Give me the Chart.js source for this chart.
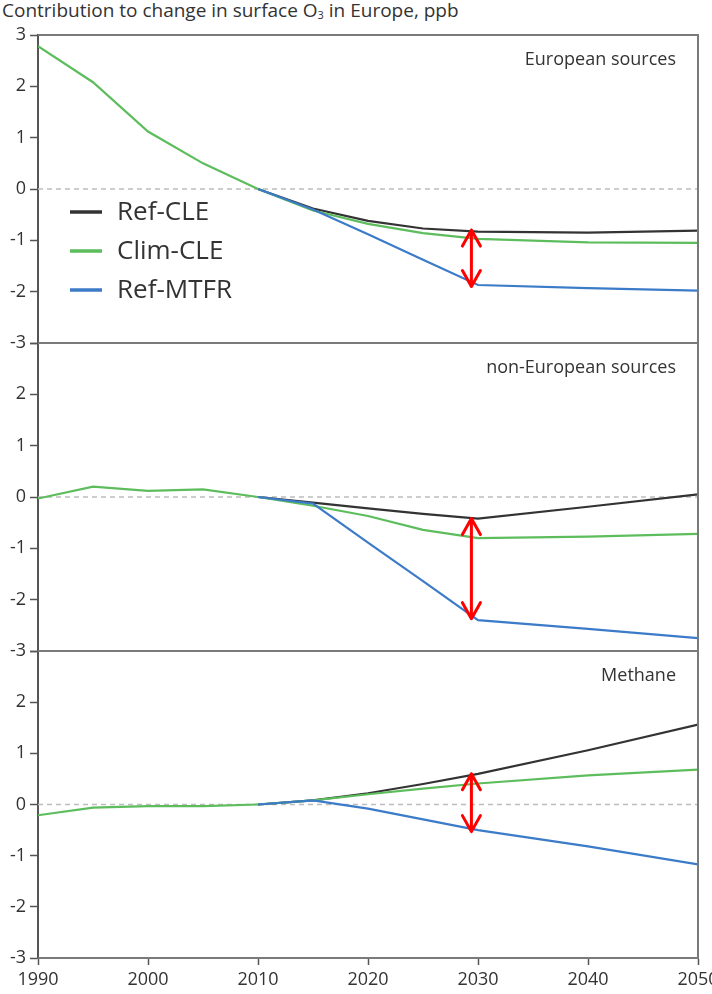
<!DOCTYPE html>
<html>
<head>
<meta charset="utf-8">
<script src="https://cdn.jsdelivr.net/npm/chart.js"></script>
<style>
  body { margin: 0; background: #fff; }
  #wrap { position: relative; width: 712px; height: 994px; overflow: hidden; }
  #title { position: absolute; left: 2px; top: -3px; font: 19px "Open Sans", sans-serif; color: #333; white-space: nowrap; }
  #title sub { font-size: 11px; vertical-align: -2px; }
  canvas { position: absolute; left: 0; }
</style>
</head>
<body>
<div id="wrap">
  <div id="title">Contribution to change in surface O<sub>3</sub> in Europe, ppb</div>
  <canvas id="c1" width="712" height="360" style="top:0px"></canvas>
  <canvas id="c2" width="712" height="340" style="top:330px"></canvas>
  <canvas id="c3" width="712" height="354" style="top:640px"></canvas>
</div>
<script>
// years
const histYears = [1990, 1995, 2000, 2005, 2010];
const scenYears = [2010, 2015, 2020, 2025, 2030, 2040, 2050];

const seriesNames = ['Ref-CLE', 'Clim-CLE', 'Ref-MTFR'];
const seriesColors = ['#333333', '#5dbd5d', '#3b7bc8'];
const panelTitles = ['European sources', 'non-European sources', 'Methane'];

// European sources
const euHist = [2.78, 2.08, 1.12, 0.5, 0.0];
const euRefCLE = [0, -0.38, -0.62, -0.77, -0.83, -0.85, -0.81];
const euClimCLE = [0, -0.42, -0.68, -0.86, -0.97, -1.04, -1.05];
const euRefMTFR = [0, -0.4, -0.88, -1.38, -1.87, -1.93, -1.98];

// non-European sources
const nonEuHist = [-0.03, 0.2, 0.12, 0.15, 0.0];
const nonEuRefCLE = [0, -0.11, -0.22, -0.33, -0.42, -0.19, 0.05];
const nonEuClimCLE = [0, -0.17, -0.37, -0.64, -0.8, -0.77, -0.72];
const nonEuRefMTFR = [0, -0.13, -0.89, -1.64, -2.4, -2.57, -2.75];

// Methane
const ch4Hist = [-0.21, -0.06, -0.03, -0.03, 0.0];
const ch4RefCLE = [0, 0.08, 0.22, 0.4, 0.6, 1.06, 1.56];
const ch4ClimCLE = [0, 0.08, 0.2, 0.31, 0.41, 0.57, 0.68];
const ch4RefMTFR = [0, 0.08, -0.08, -0.29, -0.5, -0.82, -1.17];

// red double arrows (year, top value, bottom value)
const arrowYear = 2029.4;
const euArrow = [-0.8, -1.9];
const nonEuArrow = [-0.42, -2.37];
const ch4Arrow = [0.6, -0.53];

Chart.defaults.font.family = '"Open Sans", sans-serif';
Chart.defaults.color = '#333';

function zip(xs, ys) {
    return xs.map((x, i) => ({ x: x, y: ys[i] }));
}

function makeDatasets(hist, ref, clim, mtfr) {
    const base = { borderWidth: 2.2, pointRadius: 0, fill: false, tension: 0 };
    return [
        Object.assign({ label: 'historic', data: zip(histYears, hist), borderColor: seriesColors[1], order: 0 }, base),
        Object.assign({ label: seriesNames[2], data: zip(scenYears, mtfr), borderColor: seriesColors[2], order: 1 }, base),
        Object.assign({ label: seriesNames[1], data: zip(scenYears, clim), borderColor: seriesColors[1], order: 2 }, base),
        Object.assign({ label: seriesNames[0], data: zip(scenYears, ref), borderColor: seriesColors[0], order: 3 }, base)
    ];
}

// frame, zero line, panel label and arrow
const panelDecor = {
    id: 'panelDecor',
    beforeDatasetsDraw(chart) {
        const { ctx, chartArea, scales } = chart;
        const y0 = scales.y.getPixelForValue(0);
        ctx.save();
        ctx.strokeStyle = '#bdbdbd';
        ctx.lineWidth = 1.5;
        ctx.setLineDash([5, 4]);
        ctx.beginPath();
        ctx.moveTo(chartArea.left, y0);
        ctx.lineTo(chartArea.right, y0);
        ctx.stroke();
        ctx.restore();
    },
    afterDatasetsDraw(chart, args, opts) {
        const { ctx, chartArea, scales } = chart;
        ctx.save();
        // frame
        ctx.strokeStyle = '#7a7a7a';
        ctx.lineWidth = 2;
        ctx.beginPath();
        ctx.moveTo(chartArea.left, chartArea.top);
        ctx.lineTo(chartArea.right, chartArea.top);
        ctx.lineTo(chartArea.right, chartArea.bottom);
        ctx.lineTo(chartArea.left, chartArea.bottom);
        ctx.stroke();

        // panel label
        ctx.fillStyle = '#333';
        ctx.font = '18px "Open Sans", sans-serif';
        ctx.textAlign = 'right';
        ctx.textBaseline = 'middle';
        ctx.fillText(opts.title, chartArea.right - 22, chartArea.top + 25);

        // arrow
        const x = scales.x.getPixelForValue(opts.arrowYear);
        const yTop = scales.y.getPixelForValue(opts.arrow[0]);
        const yBot = scales.y.getPixelForValue(opts.arrow[1]);
        ctx.strokeStyle = '#ff0000';
        ctx.lineWidth = 3;
        ctx.lineCap = 'round';
        ctx.lineJoin = 'round';
        ctx.beginPath();
        ctx.moveTo(x, yTop);
        ctx.lineTo(x, yBot);
        ctx.moveTo(x - 9, yTop + 16);
        ctx.lineTo(x, yTop);
        ctx.lineTo(x + 9, yTop + 16);
        ctx.moveTo(x - 9, yBot - 16);
        ctx.lineTo(x, yBot);
        ctx.lineTo(x + 9, yBot - 16);
        ctx.stroke();
        ctx.restore();
    }
};

// legend inside the first panel
const innerLegend = {
    id: 'innerLegend',
    afterDraw(chart, args, opts) {
        if (!opts.show) return;
        const { ctx, chartArea } = chart;
        ctx.save();
        ctx.font = '26px "Open Sans", sans-serif';
        ctx.textBaseline = 'middle';
        ctx.textAlign = 'left';
        seriesNames.forEach((name, i) => {
            const y = chartArea.top + 177 + i * 39;
            ctx.strokeStyle = seriesColors[i];
            ctx.lineWidth = 3.5;
            ctx.beginPath();
            ctx.moveTo(chartArea.left + 32, y);
            ctx.lineTo(chartArea.left + 64, y);
            ctx.stroke();
            ctx.fillStyle = '#333';
            ctx.fillText(name, chartArea.left + 79, y + 1);
        });
        ctx.restore();
    }
};

function makePanel(id, datasets, opts) {
    const ctx = document.getElementById(id).getContext('2d');
    return new Chart(ctx, {
        type: 'line',
        data: { datasets: datasets },
        options: {
            responsive: false,
            animation: false,
            devicePixelRatio: 1,
            layout: { padding: { top: opts.padTop, bottom: opts.padBottom, left: 0, right: 14 } },
            plugins: {
                legend: { display: false },
                tooltip: { enabled: false },
                panelDecor: { title: opts.title, arrowYear: arrowYear, arrow: opts.arrow },
                innerLegend: { show: opts.legend }
            },
            scales: {
                x: {
                    type: 'linear',
                    display: opts.showX,
                    min: 1990,
                    max: 2050,
                    ticks: {
                        stepSize: 10,
                        maxRotation: 0,
                        padding: 4,
                        color: '#333',
                        font: { size: 18 },
                        callback: v => String(v)
                    },
                    grid: { drawOnChartArea: false, tickLength: 7, tickColor: '#555', tickWidth: 1.5 },
                    border: { display: true, color: '#7a7a7a', width: 2 },
                    afterFit: s => { s.height = opts.xHeight; s.paddingLeft = 0; s.paddingRight = 0; }
                },
                y: {
                    min: -3,
                    max: 3,
                    ticks: {
                        stepSize: 1,
                        padding: 4,
                        color: '#333',
                        font: { size: 18 },
                        callback: v => (opts.hideTop && v === 3) ? '' : String(v)
                    },
                    grid: { drawOnChartArea: false, tickLength: 8, tickColor: '#555', tickWidth: 1.5 },
                    border: { display: true, color: '#555', width: 2 },
                    afterFit: s => { s.width = 38; s.paddingTop = 0; s.paddingBottom = 0; }
                }
            }
        },
        plugins: [panelDecor, innerLegend]
    });
}

makePanel('c1', makeDatasets(euHist, euRefCLE, euClimCLE, euRefMTFR),
    { title: panelTitles[0], arrow: euArrow, legend: true, hideTop: false, showX: false, padTop: 35, padBottom: 17, xHeight: 0 });
makePanel('c2', makeDatasets(nonEuHist, nonEuRefCLE, nonEuClimCLE, nonEuRefMTFR),
    { title: panelTitles[1], arrow: nonEuArrow, legend: false, hideTop: true, showX: false, padTop: 13, padBottom: 19, xHeight: 0 });
makePanel('c3', makeDatasets(ch4Hist, ch4RefCLE, ch4ClimCLE, ch4RefMTFR),
    { title: panelTitles[2], arrow: ch4Arrow, legend: false, hideTop: true, showX: true, padTop: 11, padBottom: 0, xHeight: 36 });
</script>
</body>
</html>
